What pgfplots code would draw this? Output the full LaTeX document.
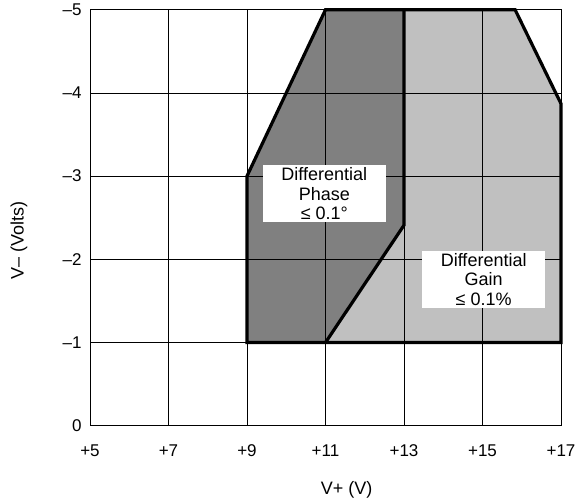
\documentclass[border=0pt]{standalone}
\usepackage{pgfplots}
\pgfplotsset{compat=1.18}
\usepackage{fontspec}
\setmainfont{Liberation Sans}
\definecolor{darkfill}{HTML}{808080}
\definecolor{lightfill}{HTML}{C0C0C0}
\begin{document}
\begin{tikzpicture}
\begin{axis}[
  set layers, axis on top, clip=false,
  at={(0pt,0pt)}, anchor=south west,
  scale only axis, width=471pt, height=416pt,
  xmin=5, xmax=17, ymin=0, ymax=5,
  xtick={5,7,9,11,13,15,17}, ytick={0,1,2,3,4,5},
  xticklabels={+5,+7,+9,+11,+13,+15,+17},
  yticklabels={0,–1,–2,–3,–4,–5},
  major tick length=0pt,
  grid=major, grid style={black, line width=0.7pt},
  axis line style={black, line width=0.8pt},
  tick label style={font=\fontsize{17}{19}\selectfont},
  xticklabel style={anchor=base, inner sep=0pt, yshift=-30.5pt},
  yticklabel style={anchor=east, inner sep=0pt, xshift=-8.3pt},
  xlabel={V+ (V)}, ylabel={V– (Volts)},
  label style={font=\fontsize{18}{20}\selectfont},
  xlabel style={at={(axis description cs:0.545,-0.166)}, anchor=base, inner sep=0pt},
  ylabel style={at={(axis description cs:-0.1507,0.446)}, anchor=center, inner sep=0pt},
]
\addplot[fill=darkfill, draw=none] coordinates {(9,1) (9,3) (11,5) (13,5) (13,2.41) (11,1)} -- cycle;
\addplot[fill=lightfill, draw=none] coordinates {(11,1) (13,2.41) (13,5) (15.83,5) (17,3.87) (17,1)} -- cycle;
\addplot[black, line width=3.2pt, line join=miter] coordinates {(9,1) (9,3) (11,5) (15.83,5) (17,3.87) (17,1)} -- cycle;
\addplot[black, line width=3.2pt, line join=miter] coordinates {(13,5) (13,2.41) (11,1)};
\begin{pgfonlayer}{axis foreground}
\node[fill=white, align=center, minimum width=123pt, inner xsep=0pt, inner ysep=2.5pt, font=\fontsize{18}{19.5}\selectfont] at (axis cs:10.97,2.79) {Differential\\Phase\\≤ 0.1°};
\node[fill=white, align=center, minimum width=123pt, inner xsep=0pt, inner ysep=2.5pt, font=\fontsize{18}{19.5}\selectfont] at (axis cs:15.03,1.757) {Differential\\Gain\\≤ 0.1\%};
\end{pgfonlayer}
\end{axis}
\pgfresetboundingbox
\useasboundingbox (-90pt,-74.3pt) rectangle (485pt,425.7pt);
\end{tikzpicture}
\end{document}
